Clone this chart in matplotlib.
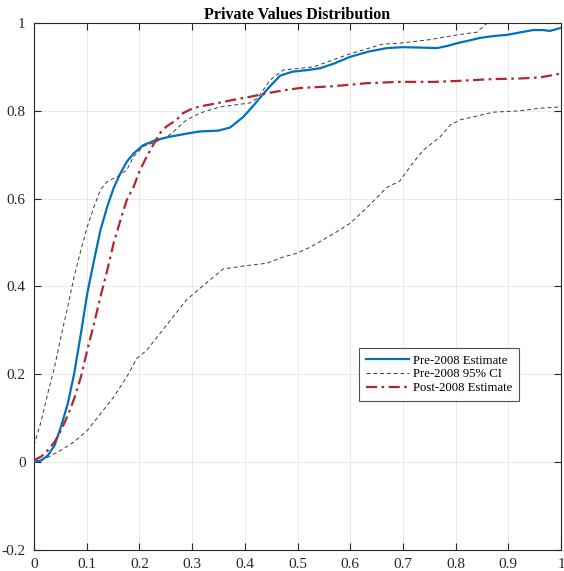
import numpy as np
import matplotlib
matplotlib.use("Agg")
import matplotlib.pyplot as plt

plt.rcParams['font.family'] = ['Liberation Serif', 'DejaVu Serif']

# Pre-2008 estimate
pre_x = [0.0, 0.014, 0.026, 0.039, 0.051, 0.064, 0.076, 0.089, 0.101, 0.114, 0.126,
         0.139, 0.151, 0.164, 0.176, 0.189, 0.2075, 0.2325, 0.2575, 0.289, 0.314,
         0.35, 0.372, 0.397, 0.415, 0.429, 0.447, 0.467, 0.49, 0.52, 0.543, 0.57,
         0.6, 0.635, 0.67, 0.70, 0.735, 0.765, 0.785, 0.803, 0.825, 0.846, 0.87,
         0.897, 0.92, 0.947, 0.965, 0.979, 1.0]
pre_y = [0.0, 0.004, 0.015, 0.038, 0.08, 0.133, 0.2, 0.293, 0.384, 0.46, 0.528,
         0.582, 0.624, 0.658, 0.684, 0.703, 0.722, 0.734, 0.741, 0.748, 0.753,
         0.755, 0.762, 0.786, 0.81, 0.83, 0.855, 0.88, 0.889, 0.893, 0.897, 0.908,
         0.923, 0.935, 0.943, 0.945, 0.944, 0.943, 0.948, 0.954, 0.96, 0.966, 0.97,
         0.973, 0.978, 0.984, 0.984, 0.982, 0.989]

# Pre-2008 95% confidence band, upper bound
ci_hi_x = [0.0, 0.014, 0.026, 0.039, 0.051, 0.064, 0.076, 0.089, 0.101, 0.114,
           0.126, 0.139, 0.1575, 0.176, 0.189, 0.2075, 0.2325, 0.2575, 0.289,
           0.315, 0.353, 0.41, 0.425, 0.448, 0.473, 0.53, 0.6, 0.662, 0.694,
           0.75, 0.803, 0.84, 0.86, 1.0]
ci_hi_y = [0.038, 0.095, 0.156, 0.217, 0.285, 0.354, 0.422, 0.483, 0.536, 0.582,
           0.62, 0.639, 0.65, 0.665, 0.696, 0.719, 0.73, 0.745, 0.779,
           0.795, 0.809, 0.818, 0.83, 0.87, 0.893, 0.90, 0.93, 0.952, 0.954,
           0.962, 0.973, 0.979, 1.0, 1.0]

# Pre-2008 95% confidence band, lower bound
ci_lo_x = [0.0, 0.026, 0.051, 0.076, 0.101, 0.126, 0.151, 0.176, 0.195, 0.214,
           0.239, 0.264, 0.289, 0.315, 0.359, 0.40, 0.442, 0.47, 0.499, 0.525,
           0.548, 0.575, 0.60, 0.632, 0.67, 0.694, 0.715, 0.738, 0.77, 0.79,
           0.81, 0.833, 0.871, 0.922, 0.96, 1.0]
ci_lo_y = [0.0, 0.011, 0.027, 0.046, 0.072, 0.11, 0.148, 0.194, 0.236, 0.255,
           0.293, 0.331, 0.369, 0.396, 0.44, 0.447, 0.453, 0.466, 0.476, 0.49,
           0.506, 0.525, 0.544, 0.58, 0.626, 0.64, 0.675, 0.71, 0.74, 0.768,
           0.78, 0.786, 0.797, 0.80, 0.806, 0.809]

# Post-2008 estimate
post_x = [0.0, 0.014, 0.026, 0.039, 0.051, 0.064, 0.076, 0.089, 0.101, 0.114,
          0.126, 0.139, 0.151, 0.164, 0.176, 0.189, 0.201, 0.214, 0.226, 0.239,
          0.251, 0.27, 0.283, 0.3, 0.315, 0.35, 0.378, 0.41, 0.442, 0.475, 0.505,
          0.567, 0.632, 0.694, 0.76, 0.803, 0.865, 0.928, 0.96, 1.0]
post_y = [0.004, 0.013, 0.027, 0.046, 0.072, 0.106, 0.144, 0.194, 0.255, 0.316,
          0.376, 0.437, 0.498, 0.551, 0.597, 0.627, 0.665, 0.696, 0.722, 0.749,
          0.764, 0.779, 0.795, 0.805, 0.81, 0.818, 0.825, 0.832, 0.84, 0.847, 0.852,
          0.856, 0.863, 0.866, 0.866, 0.868, 0.872, 0.874, 0.876, 0.885]

x_ticks = [0, 0.1, 0.2, 0.3, 0.4, 0.5, 0.6, 0.7, 0.8, 0.9, 1]
x_labels = ['0', '0.1', '0.2', '0.3', '0.4', '0.5', '0.6', '0.7', '0.8', '0.9', '1']
y_ticks = [-0.2, 0, 0.2, 0.4, 0.6, 0.8, 1]
y_labels = ['-0.2', '0', '0.2', '0.4', '0.6', '0.8', '1']

fig = plt.figure(figsize=(5.64, 5.71), dpi=100)
ax = fig.add_axes([0.0603, 0.0368, 0.9344, 0.9229])

ax.plot(pre_x, pre_y, color='#0072BD', lw=1.6, label='Pre-2008 Estimate',
        zorder=4, solid_joinstyle='round')
ax.plot(ci_hi_x, ci_hi_y, color='#3a3a3a', lw=0.7, ls=(0, (4, 3)),
        label='Pre-2008 95% CI', zorder=3)
ax.plot(ci_lo_x, ci_lo_y, color='#3a3a3a', lw=0.7, ls=(0, (4, 3)), zorder=3)
ax.plot(post_x, post_y, color='#B5262C', lw=1.6, ls=(0, (5, 2, 1.2, 2)),
        label='Post-2008 Estimate', zorder=4)

ax.set_xlim(0, 1)
ax.set_ylim(-0.2, 1)
ax.set_xticks(x_ticks)
ax.set_xticklabels(x_labels)
ax.set_yticks(y_ticks)
ax.set_yticklabels(y_labels)
ax.grid(True, color='#e6e6e6', lw=0.6)
ax.set_axisbelow(True)
ax.tick_params(direction='in', top=True, right=True, length=5, width=0.8,
               colors='#262626', labelsize=11, pad=6)
for s in ax.spines.values():
    s.set_color('#262626')
    s.set_linewidth(0.8)

ax.set_title('Private Values Distribution', fontsize=11.5, fontweight='bold', pad=3)

leg = ax.legend(loc='upper left', bbox_to_anchor=(0.617, 0.383), fontsize=9.2,
                frameon=True, fancybox=False, edgecolor='#262626',
                handlelength=3.4, handletextpad=0.3, borderpad=0.5,
                labelspacing=0.15, borderaxespad=0)
leg.get_frame().set_linewidth(0.8)

fig.savefig('out.png', dpi=100)
